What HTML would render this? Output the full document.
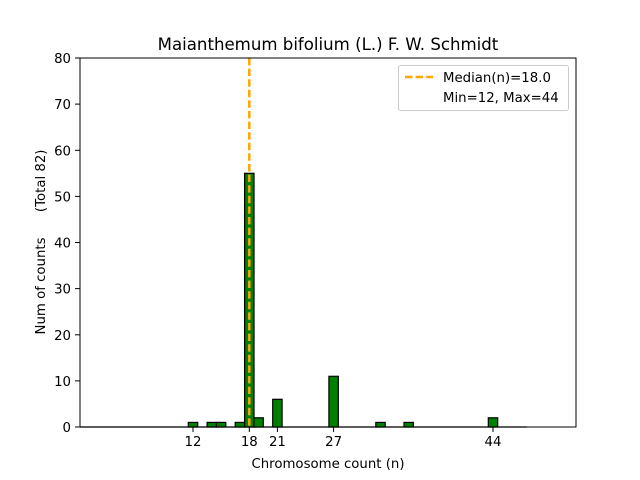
<!DOCTYPE html>
<html><head><meta charset="utf-8"><style>body{margin:0;background:#fff}svg{display:block}</style></head><body>
<svg width="640" height="480" xmlns="http://www.w3.org/2000/svg" font-family="DejaVu Sans, Liberation Sans, sans-serif" font-size="13.3">
<rect width="640" height="480" fill="#fff"/>
<text x="328" y="50" text-anchor="middle" font-size="16.6">Maianthemum bifolium (L.) F. W. Schmidt</text>
<line x1="80" y1="427" x2="527" y2="427" stroke="#777" stroke-width="1.5"/>
<g fill="#008000" stroke="#000" stroke-width="1.2">
<rect x="188.3" y="422.4" width="9.4" height="4.6"/>
<rect x="207.1" y="422.4" width="9.4" height="4.6"/>
<rect x="216.4" y="422.4" width="9.4" height="4.6"/>
<rect x="235.2" y="422.4" width="9.4" height="4.6"/>
<rect x="244.6" y="173.3" width="9.4" height="253.7"/>
<rect x="253.9" y="417.8" width="9.4" height="9.2"/>
<rect x="272.7" y="399.3" width="9.4" height="27.7"/>
<rect x="328.9" y="376.3" width="9.4" height="50.7"/>
<rect x="375.8" y="422.4" width="9.4" height="4.6"/>
<rect x="404.0" y="422.4" width="9.4" height="4.6"/>
<rect x="488.3" y="417.8" width="9.4" height="9.2"/>
</g>
<line x1="249.3" y1="58" x2="249.3" y2="427" stroke="#ffa500" stroke-width="2.5" stroke-dasharray="7.4,3.2"/>
<rect x="80" y="58" width="496" height="369" fill="none" stroke="#000" stroke-width="1"/>
<g stroke="#000">
<line x1="75" y1="427" x2="80" y2="427"/><line x1="75" y1="380.9" x2="80" y2="380.9"/><line x1="75" y1="334.8" x2="80" y2="334.8"/><line x1="75" y1="288.6" x2="80" y2="288.6"/><line x1="75" y1="242.5" x2="80" y2="242.5"/><line x1="75" y1="196.4" x2="80" y2="196.4"/><line x1="75" y1="150.3" x2="80" y2="150.3"/><line x1="75" y1="104.1" x2="80" y2="104.1"/><line x1="75" y1="58" x2="80" y2="58"/>
<line x1="193" y1="427" x2="193" y2="432"/><line x1="249.3" y1="427" x2="249.3" y2="432"/><line x1="277.4" y1="427" x2="277.4" y2="432"/><line x1="333.6" y1="427" x2="333.6" y2="432"/><line x1="493" y1="427" x2="493" y2="432"/>
</g>
<g text-anchor="end">
<text x="71" y="432">0</text><text x="71" y="386">10</text><text x="71" y="340">20</text><text x="71" y="293.6">30</text><text x="71" y="247.5">40</text><text x="71" y="201.4">50</text><text x="71" y="155.3">60</text><text x="71" y="109.1">70</text><text x="71" y="63">80</text>
</g>
<g text-anchor="middle">
<text x="193" y="446">12</text><text x="249.3" y="446">18</text><text x="277.4" y="446">21</text><text x="333.6" y="446">27</text><text x="493" y="446">44</text>
<text x="328" y="468">Chromosome count (n)</text>
</g>
<text transform="translate(45,242) rotate(-90)" text-anchor="middle" style="white-space:pre" xml:space="preserve">Num of counts      (Total 82)</text>
<rect x="398.5" y="65.5" width="170" height="45" rx="2" fill="#fff" stroke="#ccc"/>
<line x1="405" y1="77" x2="433" y2="77" stroke="#ffa500" stroke-width="2.5" stroke-dasharray="7.4,3.2"/>
<text x="443" y="82">Median(n)=18.0</text>
<text x="443" y="102">Min=12, Max=44</text>
</svg>
</body></html>
